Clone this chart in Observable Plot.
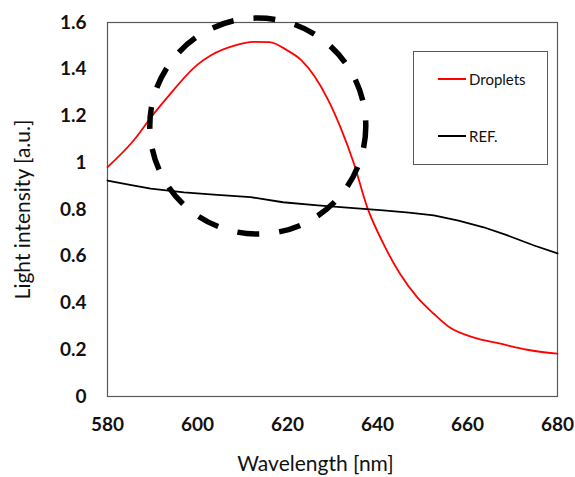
<!DOCTYPE html>
<html>
<head>
<meta charset="utf-8">
<script src="https://cdn.jsdelivr.net/npm/d3@7"></script>
<script src="https://cdn.jsdelivr.net/npm/@observablehq/plot@0.6"></script>
<style>
  html, body { margin: 0; padding: 0; background: #fff; }
  #wrap { position: relative; width: 575px; height: 477px; overflow: hidden; }
  #legend { position: absolute; left: 413px; top: 51px; width: 133px; height: 112px;
    border: 1px solid #595959; background: #fff; font-family: Lato, "Open Sans", sans-serif; font-size: 15px; color: #111; }
  .item { position: absolute; left: 24px; display: flex; align-items: center; }
  .swatch { width: 28px; height: 0; border-top: 2px solid; margin-right: 3px; }
</style>
</head>
<body>
<div id="wrap"></div>
<script>
// Wavelength (nm) samples and intensities
const dropletsWl = [580, 585.8, 590.3, 593.3, 600, 603, 608, 612.5, 616, 620, 623, 626, 629, 631.8, 634.7, 637.7, 641.3, 645, 648.8, 652.5, 656, 661.3, 667.3, 673.3, 680];
const dropletsI  = [0.981, 1.095, 1.21, 1.28, 1.42, 1.46, 1.50, 1.517, 1.516, 1.48, 1.44, 1.37, 1.27, 1.15, 1.00, 0.81, 0.654, 0.525, 0.425, 0.354, 0.296, 0.253, 0.226, 0.20, 0.183];
const refWl = [580, 585, 589.6, 597, 604.4, 611.8, 619, 626.7, 634, 641.3, 647, 652.5, 658, 663.6, 668.9, 674.8, 680];
const refI  = [0.924, 0.905, 0.889, 0.873, 0.863, 0.853, 0.831, 0.818, 0.807, 0.796, 0.787, 0.775, 0.752, 0.724, 0.689, 0.646, 0.612];
// Highlight ellipse centre (data coordinates)
const highlightX = [613.4];
const highlightY = [1.157];
const xTicks = [580, 600, 620, 640, 660, 680];
const yTicks = [0, 0.2, 0.4, 0.6, 0.8, 1, 1.2, 1.4, 1.6];
const seriesNames = ["Droplets", "REF."];
const seriesColors = ["#ff0000", "#000000"];

const droplets = dropletsWl.map((w, i) => ({w, v: dropletsI[i]}));
const ref = refWl.map((w, i) => ({w, v: refI[i]}));
const highlight = highlightX.map((x, i) => ({x, y: highlightY[i]}));

const chart = Plot.plot({
  width: 575,
  height: 477,
  marginLeft: 107,
  marginRight: 18,
  marginTop: 22,
  marginBottom: 81,
  style: {fontFamily: "Lato, 'Open Sans', sans-serif", background: "#fff"},
  x: {domain: [580, 680]},
  y: {domain: [0, 1.6]},
  marks: [
    Plot.frame({stroke: "#595959", strokeWidth: 1.2}),
    Plot.axisX({ticks: xTicks, tickSize: 0, tickPadding: 21, fontSize: 19, fontWeight: "bold", label: null, tickFormat: d => String(d), fill: "#111"}),
    Plot.axisY({ticks: yTicks, tickSize: 0, tickPadding: 21, fontSize: 19, fontWeight: "bold", label: null, tickFormat: d => String(d), fill: "#111"}),
    Plot.line(droplets, {x: "w", y: "v", stroke: seriesColors[0], strokeWidth: 1.8, curve: "monotone-x"}),
    Plot.line(ref, {x: "w", y: "v", stroke: seriesColors[1], strokeWidth: 1.8, curve: "linear"}),
    Plot.dot(highlight, {x: "x", y: "y", r: 108, stroke: "#000", strokeWidth: 5.5, strokeDasharray: "22,20", fill: "none"}),
    Plot.text(["Light intensity [a.u.]"], {frameAnchor: "left", textAnchor: "middle", dx: -84, rotate: -90, fontSize: 21, fill: "#111"}),
    Plot.text(["Wavelength [nm]"], {frameAnchor: "bottom", textAnchor: "middle", dx: -17, dy: 74, fontSize: 21, fill: "#111"})
  ]
});

const wrap = document.getElementById("wrap");
wrap.appendChild(chart);

const legend = document.createElement("div");
legend.id = "legend";
seriesNames.forEach((name, i) => {
  const item = document.createElement("div");
  item.className = "item";
  item.style.top = (i === 0 ? 18 : 75) + "px";
  const sw = document.createElement("span");
  sw.className = "swatch";
  sw.style.borderTopColor = seriesColors[i];
  const t = document.createElement("span");
  t.textContent = name;
  item.appendChild(sw);
  item.appendChild(t);
  legend.appendChild(item);
});
wrap.appendChild(legend);
</script>
</body>
</html>
